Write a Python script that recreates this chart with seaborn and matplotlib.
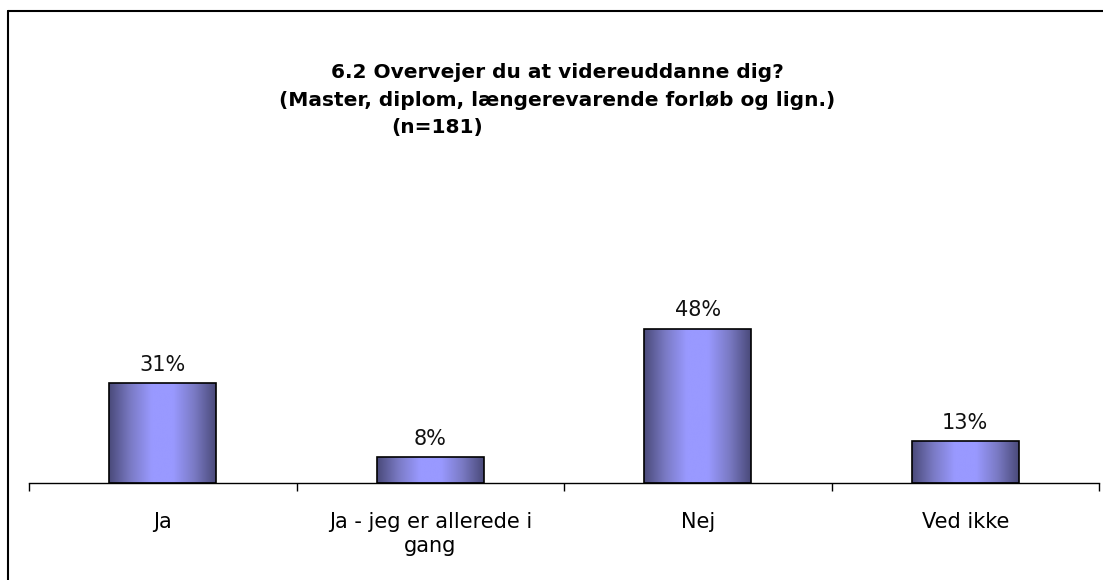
import matplotlib
matplotlib.use("Agg")
import matplotlib.pyplot as plt
import numpy as np
import pandas as pd
import seaborn as sns
from matplotlib.colors import LinearSegmentedColormap
from matplotlib.lines import Line2D

categories = ["Ja", "Ja - jeg er allerede i\ngang", "Nej", "Ved ikke"]
values = [31, 8, 48, 13]
labels = ["31%", "8%", "48%", "13%"]
title_lines = ["6.2 Overvejer du at videreuddanne dig?",
               "(Master, diplom, længerevarende forløb og lign.)"]
n_label = "(n=181)"

sns.set_style("white")
plt.rcParams['font.family'] = ['DejaVu Sans']

W, H = 1103, 580
fig = plt.figure(figsize=(W / 100, H / 100), dpi=100)
ax = fig.add_axes([29 / W, 1 - 483 / H, (1099 - 29) / W, (483 - 290) / H])

df = pd.DataFrame({"cat": categories, "val": values})
sns.barplot(data=df, x="cat", y="val", ax=ax, width=0.4, color="#9999ff",
            edgecolor="black", linewidth=1.2)

cmap = LinearSegmentedColormap.from_list(
    "bar", ["#4a4a7a", "#7a7ac4", "#9999ff", "#9999ff", "#7a7ac4", "#4a4a7a"])
grad = np.linspace(0, 1, 256).reshape(1, -1)
for p in ax.patches:
    x0, y0 = p.get_x(), p.get_y()
    w, h = p.get_width(), p.get_height()
    im = ax.imshow(grad, cmap=cmap, aspect="auto", extent=[x0, x0 + w, y0, y0 + h],
                   zorder=2, interpolation="bicubic")
    im.set_clip_path(p)
    p.set_facecolor("none")
    p.set_zorder(3)
ax.set_xlim(-0.5, 3.5)
ax.set_ylim(0, 60)

for i, (v, lab) in enumerate(zip(values, labels)):
    ax.annotate(lab, (i, v), xytext=(0, 6), textcoords="offset points",
                ha="center", va="bottom", fontsize=15, color="#111111")

for s in ["top", "right", "left"]:
    ax.spines[s].set_visible(False)
ax.spines["bottom"].set_color("black")
ax.spines["bottom"].set_linewidth(1.0)
ax.set_yticks([])
ax.set_xticks(range(4))
ax.set_xticklabels(categories, fontsize=15, color="black", linespacing=1.25)
ax.tick_params(axis="x", which="major", length=0, pad=21)
ax.set_xticks([-0.5, 0.5, 1.5, 2.5, 3.5], minor=True)
ax.tick_params(axis="x", which="minor", length=6, width=1, direction="out",
               color="black", bottom=True)
ax.set_xlabel("")
ax.set_ylabel("")

fig.text(557 / W, 1 - 72 / H, title_lines[0], ha="center", va="center",
         fontsize=14.5, fontweight="bold", color="black")
fig.text(557 / W, 1 - 100 / H, title_lines[1], ha="center", va="center",
         fontsize=14.5, fontweight="bold", color="black")
fig.text(437 / W, 1 - 128 / H, n_label, ha="center", va="center",
         fontsize=14.5, fontweight="bold", color="black")

fig.add_artist(Line2D([8 / W, 8 / W], [0, 1 - 11 / H], transform=fig.transFigure,
                      color="black", linewidth=1.5))
fig.add_artist(Line2D([8 / W, 1], [1 - 11 / H, 1 - 11 / H], transform=fig.transFigure,
                      color="black", linewidth=1.5))

fig.savefig("out.png", dpi=100, facecolor="white")
